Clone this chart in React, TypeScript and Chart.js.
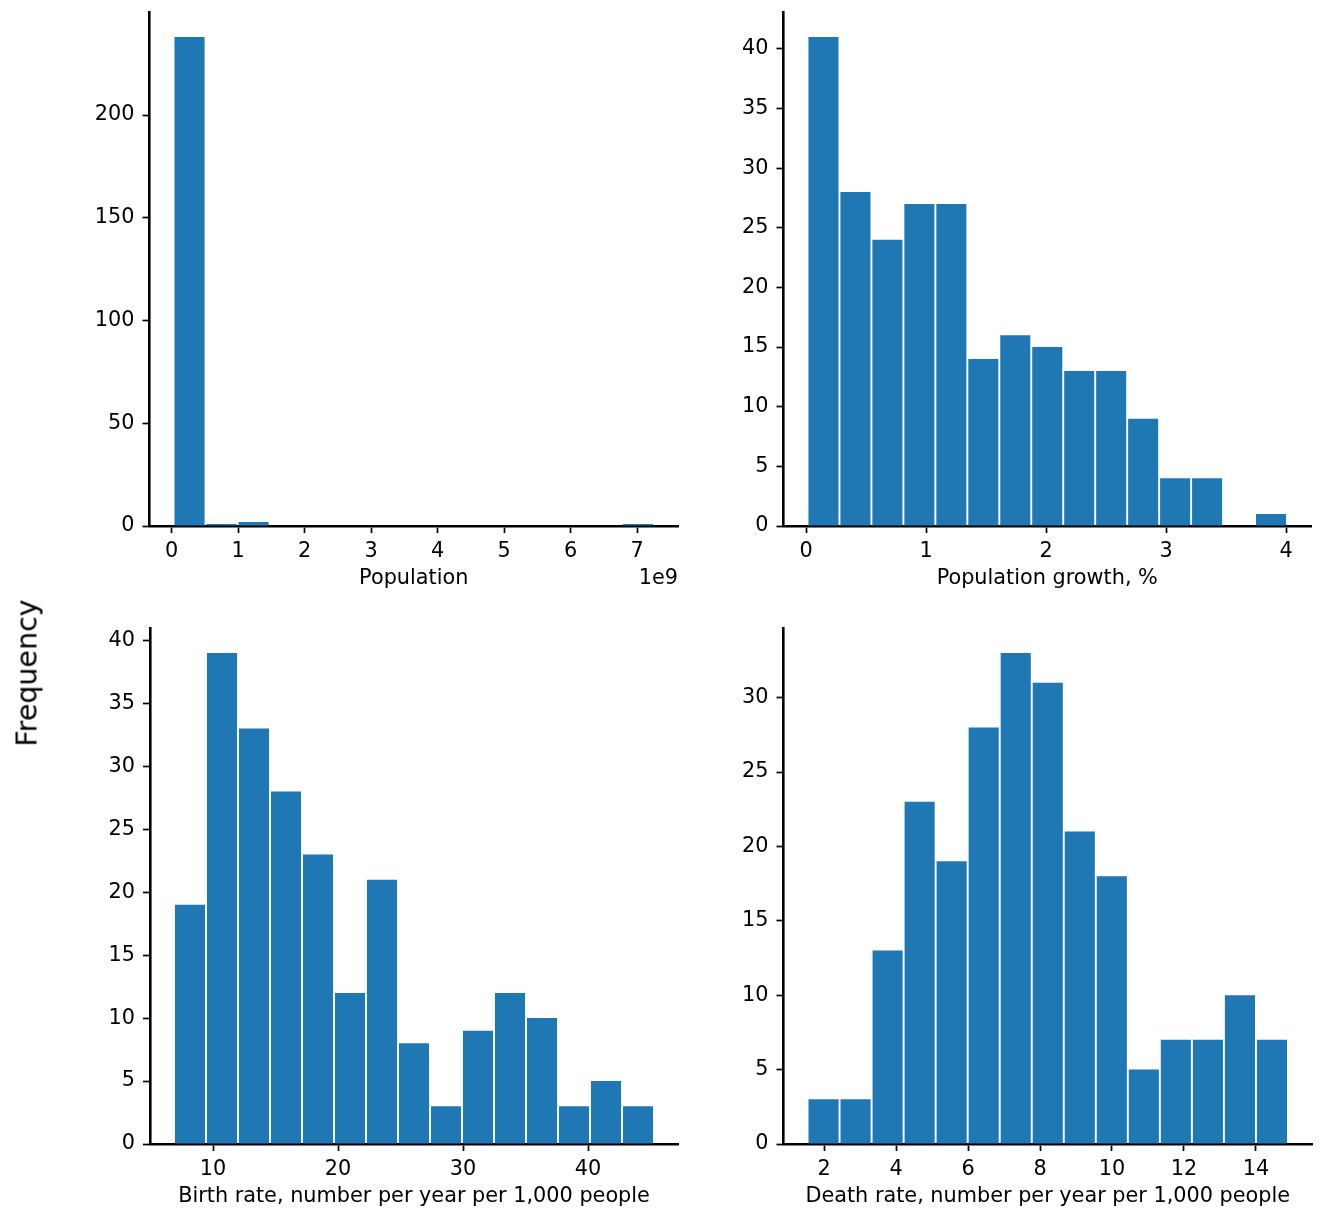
import React, { useEffect, useRef } from 'react';
import { Chart, registerables } from 'chart.js';

Chart.register(...registerables);
Chart.defaults.font.family = "'DejaVu Sans', sans-serif";
Chart.defaults.color = '#000';

// ---------- data ----------
const BIN_COUNT = 15;

const popRange = [0.027e9, 7.255e9];
const popCounts = [238, 1, 2, 0, 0, 0, 0, 0, 0, 0, 0, 0, 0, 0, 1];
const popXTicks = [0, 1e9, 2e9, 3e9, 4e9, 5e9, 6e9, 7e9];
const popYTicks = [0, 50, 100, 150, 200];

const growthRange = [0.012, 4.008];
const growthCounts = [41, 28, 24, 27, 27, 14, 16, 15, 13, 13, 9, 4, 4, 0, 1];
const growthXTicks = [0, 1, 2, 3, 4];
const growthYTicks = [0, 5, 10, 15, 20, 25, 30, 35, 40];

const birthRange = [6.88, 45.28];
const birthCounts = [19, 39, 33, 28, 23, 12, 21, 8, 3, 9, 12, 10, 3, 5, 3];
const birthXTicks = [10, 20, 30, 40];
const birthYTicks = [0, 5, 10, 15, 20, 25, 30, 35, 40];

const deathRange = [1.54, 14.89];
const deathCounts = [3, 3, 13, 23, 19, 28, 33, 31, 21, 18, 5, 7, 7, 10, 7];
const deathXTicks = [2, 4, 6, 8, 10, 12, 14];
const deathYTicks = [0, 5, 10, 15, 20, 25, 30];

const BAR_COLOR = '#1f77b4';
const TICK_FONT = 20.8;
const LABEL_FONT = 20.8;

type Panel = {
  xlabel: string;
  range: number[];
  counts: number[];
  xTicks: number[];
  yTicks: number[];
  xScale?: number;
  offsetText?: string;
  canvas: { left: number; top: number; width: number; height: number };
  plot: { left: number; top: number; right: number; bottom: number };
};

const panels: Panel[] = [
  {
    xlabel: 'Population',
    range: popRange,
    counts: popCounts,
    xTicks: popXTicks,
    yTicks: popYTicks,
    xScale: 1e9,
    offsetText: '1e9',
    canvas: { left: 40, top: -8, width: 660, height: 604 },
    plot: { left: 149.5, top: 12.5, right: 678, bottom: 526 },
  },
  {
    xlabel: 'Population growth, %',
    range: growthRange,
    counts: growthCounts,
    xTicks: growthXTicks,
    yTicks: growthYTicks,
    canvas: { left: 674, top: -8, width: 652, height: 604 },
    plot: { left: 783.5, top: 12.5, right: 1311, bottom: 526 },
  },
  {
    xlabel: 'Birth rate, number per year per 1,000 people',
    range: birthRange,
    counts: birthCounts,
    xTicks: birthXTicks,
    yTicks: birthYTicks,
    canvas: { left: 40, top: 608, width: 660, height: 606 },
    plot: { left: 150, top: 628.5, right: 678, bottom: 1144 },
  },
  {
    xlabel: 'Death rate, number per year per 1,000 people',
    range: deathRange,
    counts: deathCounts,
    xTicks: deathXTicks,
    yTicks: deathYTicks,
    canvas: { left: 674, top: 608, width: 652, height: 606 },
    plot: { left: 783.5, top: 628.5, right: 1312, bottom: 1144 },
  },
];

function HistPanel({ p }: { p: Panel }) {
  const ref = useRef<HTMLCanvasElement | null>(null);

  useEffect(() => {
    if (!ref.current) return;
    const [lo, hi] = p.range;
    const binW = (hi - lo) / BIN_COUNT;
    const points = p.counts.map((c, i) => ({ x: lo + (i + 0.5) * binW, y: c }));
    const span = hi - lo;
    const xMin = lo - 0.05 * span;
    const xMax = hi + 0.05 * span;
    const yMax = Math.max(...p.counts) * 1.05;

    const yAxisW = p.plot.left - p.canvas.left;
    const padTop = p.plot.top - p.canvas.top;
    const padRight = p.canvas.left + p.canvas.width - p.plot.right;
    const xAxisH = p.canvas.top + p.canvas.height - p.plot.bottom;
    const div = p.xScale || 1;

    const offsetPlugin = {
      id: 'offsetText',
      afterDraw(chart: any) {
        if (!p.offsetText) return;
        const { ctx, chartArea } = chart;
        ctx.save();
        ctx.font = `${TICK_FONT}px 'DejaVu Sans', sans-serif`;
        ctx.fillStyle = '#000';
        ctx.textAlign = 'right';
        ctx.textBaseline = 'middle';
        ctx.fillText(p.offsetText, chartArea.right, chartArea.bottom + 53);
        ctx.restore();
      },
    };

    const axisCommon = {
      type: 'linear' as const,
      offset: false,
      grid: {
        display: true,
        drawOnChartArea: false,
        drawTicks: true,
        tickLength: 7,
        tickWidth: 1.7,
        tickColor: '#000',
        color: '#000',
        offset: false,
      },
      border: { display: true, color: '#000', width: 2.6 },
    };

    const chart = new Chart(ref.current, {
      type: 'bar',
      data: {
        datasets: [
          {
            data: points as any,
            backgroundColor: BAR_COLOR,
            borderWidth: 0,
            barPercentage: 0.94,
            categoryPercentage: 1,
          },
        ],
      },
      options: {
        responsive: false,
        animation: false,
        events: [],
        layout: { padding: { top: padTop, right: padRight, left: 0, bottom: 0 } },
        plugins: { legend: { display: false }, tooltip: { enabled: false } },
        scales: {
          x: {
            ...axisCommon,
            min: xMin,
            max: xMax,
            ticks: {
              autoSkip: false,
              maxRotation: 0,
              minRotation: 0,
              padding: 6.5,
              color: '#000',
              font: { size: TICK_FONT },
              callback: (v: any) => String(Math.round((Number(v) / div) * 1000) / 1000),
            },
            title: {
              display: true,
              text: p.xlabel,
              color: '#000',
              font: { size: LABEL_FONT },
              padding: { top: 0, bottom: 5 },
            },
            afterBuildTicks: (s: any) => {
              s.ticks = p.xTicks.map((v) => ({ value: v }));
            },
            afterFit: (s: any) => {
              s.height = xAxisH;
            },
          },
          y: {
            ...axisCommon,
            min: 0,
            max: yMax,
            ticks: {
              autoSkip: false,
              padding: 8,
              color: '#000',
              font: { size: TICK_FONT },
              callback: (v: any) => String(v),
            },
            afterBuildTicks: (s: any) => {
              s.ticks = p.yTicks.map((v) => ({ value: v }));
            },
            afterFit: (s: any) => {
              s.width = yAxisW;
            },
          },
        },
      } as any,
      plugins: [offsetPlugin],
    });
    return () => chart.destroy();
  }, [p]);

  return (
    <canvas
      ref={ref}
      width={p.canvas.width}
      height={p.canvas.height}
      style={{
        position: 'absolute',
        left: p.canvas.left,
        top: p.canvas.top,
        width: p.canvas.width,
        height: p.canvas.height,
        display: 'block',
      }}
    />
  );
}

export default function App() {
  return (
    <div
      style={{
        position: 'absolute',
        left: 0,
        top: 0,
        width: 1326,
        height: 1225,
        background: '#fff',
        overflow: 'hidden',
      }}
    >
      {panels.map((p, i) => (
        <HistPanel key={i} p={p} />
      ))}
      <div
        style={{
          position: 'absolute',
          left: 27,
          top: 673,
          transform: 'translate(-50%, -50%) rotate(-90deg)',
          fontFamily: "'DejaVu Sans', sans-serif",
          fontSize: 28.5,
          whiteSpace: 'nowrap',
          color: '#000',
        }}
      >
        Frequency
      </div>
    </div>
  );
}
